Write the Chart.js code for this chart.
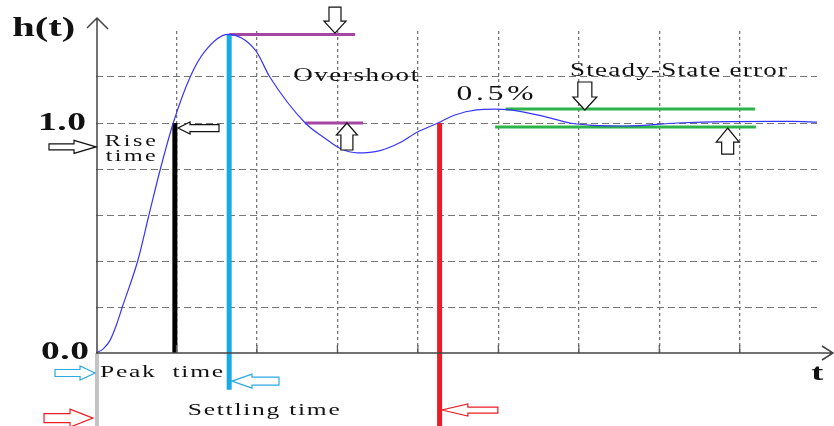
<!DOCTYPE html>
<html>
<head>
<meta charset="utf-8">
<script src="https://cdn.jsdelivr.net/npm/chart.js@4"></script>
<style>
  body { margin: 0; background: #fff; }
  canvas { display: block; }
</style>
</head>
<body>
<canvas id="stepChart" width="834" height="426"></canvas>
<script>
// Step response h(t) (t in grid units)
const timeVals = [0, 0.09, 0.174, 0.257, 0.327, 0.518, 0.658, 0.8, 0.96, 1.17, 1.35, 1.64, 1.98, 2.16,
    2.6, 2.84, 3.03, 3.25, 3.53, 3.78, 3.99, 4.25, 4.46, 4.73, 4.96, 5.14, 5.55, 5.89,
    6.17, 6.6, 7.22, 7.84, 8.66, 8.96];
const responseVals = [0, 0.018, 0.055, 0.125, 0.2, 0.4, 0.6, 0.8, 1.0, 1.2, 1.31, 1.385, 1.317, 1.2,
    1.0, 0.935, 0.89, 0.87, 0.88, 0.915, 0.96, 1.0, 1.035, 1.057, 1.06, 1.057, 1.03, 1.0,
    0.99, 0.987, 1.0, 1.006, 1.007, 1.004];

// y tick labels
const yTickVals = [0, 1.0];
const yTickLabels = ['0.0', '1.0'];

// marker values
const riseTime = 0.98;
const peakTime = 1.655;
const settlingTime = 4.27;
const peakValue = 1.385;
const finalValue = 1.0;
const bandUpper = 1.061;
const bandLower = 0.983;

const serif = '"Liberation Serif", "Times New Roman", serif';

// text labels: [text, t, h, font, width]
const labels = [
    ['h(t)', -1.04, 1.41, 'bold 28px ' + serif, 63],
    ['Rise', 0.11, 0.917, '16px ' + serif, 51],
    ['time', 0.12, 0.852, '16px ' + serif, 50],
    ['Overshoot', 2.45, 1.204, '18px ' + serif, 125],
    ['0.5%', 4.48, 1.122, '21px ' + serif, 77],
    ['Steady-State error', 5.89, 1.226, '18px ' + serif, 217],
    ['Peak  time', 0.05, -0.083, '17px ' + serif, 123],
    ['Settling time', 1.14, -0.252, '17px ' + serif, 152],
    ['t', 8.89, -0.091, 'bold 24px ' + serif, 13]
];

// hollow arrows: tip t, tip h, direction, length, shaft half, head half, head length, colour
const arrows = [
    [2.97, 1.391, 'down', 26, 6, 11, 12, '#111'],
    [3.118, 1.0, 'up', 27, 6, 10.5, 12, '#111'],
    [1.019, 0.978, 'left', 41, 3.5, 6, 12, '#111'],
    [0.0, 0.896, 'right', 47, 3, 6.5, 22, '#111'],
    [6.075, 1.0565, 'down', 28, 7, 12, 13, '#111'],
    [7.85, 0.978, 'up', 26, 6, 11.5, 14, '#111'],
    [-0.012, -0.087, 'right', 40, 3.5, 7, 15, '#29abe2'],
    [1.69, -0.122, 'left', 47, 4, 7, 20, '#29abe2'],
    [-0.037, -0.283, 'right', 49, 4.5, 9, 23, '#ed1c24'],
    [4.298, -0.248, 'left', 56, 3, 6, 26, '#ed1c24']
];

function seg(x1, y1, x2, y2) {
    return [{ x: x1, y: y1 }, { x: x2, y: y2 }];
}

// the picture's lettering is stretched sideways, so widen and space to the measured width
function fitText(ctx, str, x, y, font, width) {
    ctx.font = font;
    ctx.letterSpacing = '0px';
    const raw = ctx.measureText(str).width;
    const sx = Math.min(1.5, width / raw);
    const ls = str.length > 1 ? (width / sx - raw) / (str.length - 1) : 0;
    ctx.save();
    ctx.translate(x, y);
    ctx.scale(sx, 1);
    ctx.letterSpacing = Math.max(ls, 0) + 'px';
    ctx.fillText(str, 0, 0);
    ctx.restore();
}

function drawArrow(ctx, x, y, dir, len, sh, hh, hl, color) {
    const ang = { right: 0, left: Math.PI, down: Math.PI / 2, up: -Math.PI / 2 }[dir];
    ctx.save();
    ctx.translate(x, y);
    ctx.rotate(ang);
    ctx.beginPath();
    ctx.moveTo(0, 0);
    ctx.lineTo(-hl, -hh);
    ctx.lineTo(-hl, -sh);
    ctx.lineTo(-len, -sh);
    ctx.lineTo(-len, sh);
    ctx.lineTo(-hl, sh);
    ctx.lineTo(-hl, hh);
    ctx.closePath();
    ctx.fillStyle = '#fff';
    ctx.fill();
    ctx.strokeStyle = color;
    ctx.lineWidth = 1.2;
    ctx.stroke();
    ctx.restore();
}

const annotations = {
    id: 'annotations',
    afterDatasetsDraw(chart) {
        const ctx = chart.ctx;
        const xs = chart.scales.x, ys = chart.scales.y;
        const left = xs.left, bottom = ys.bottom;
        ctx.save();

        // small ticks on the t axis
        ctx.strokeStyle = '#555';
        ctx.lineWidth = 1.2;
        xs.ticks.forEach(tk => {
            if (tk.value > 0.5 && Number.isInteger(tk.value)) {
                const px = xs.getPixelForValue(tk.value);
                ctx.beginPath();
                ctx.moveTo(px, bottom - 8);
                ctx.lineTo(px, bottom);
                ctx.stroke();
            }
        });

        // axes with open arrowheads
        ctx.strokeStyle = '#444';
        ctx.lineWidth = 1.5;
        ctx.beginPath();
        ctx.moveTo(left + 1, bottom);
        ctx.lineTo(left + 1, ys.top - 13);
        ctx.moveTo(left - 9, ys.top - 3);
        ctx.lineTo(left + 1, ys.top - 13);
        ctx.lineTo(left + 12, ys.top - 2);
        ctx.moveTo(left, bottom);
        ctx.lineTo(xs.right + 16, bottom);
        ctx.moveTo(xs.right + 5, bottom - 7);
        ctx.lineTo(xs.right + 16, bottom);
        ctx.lineTo(xs.right + 5, bottom + 7);
        ctx.stroke();

        arrows.forEach(a => {
            drawArrow(ctx, xs.getPixelForValue(a[0]), ys.getPixelForValue(a[1]), a[2], a[3], a[4], a[5], a[6], a[7]);
        });

        // y tick labels
        ctx.fillStyle = '#111';
        ctx.textBaseline = 'middle';
        ctx.textAlign = 'left';
        yTickVals.forEach((v, i) => {
            const w = 48;
            fitText(ctx, yTickLabels[i], left - 10 - w + (v === 0 ? 3 : 0), ys.getPixelForValue(v) + (v === 0 ? 0 : 1), 'bold 25px ' + serif, w);
        });

        labels.forEach(l => {
            fitText(ctx, l[0], xs.getPixelForValue(l[1]), ys.getPixelForValue(l[2]), l[3], l[4]);
        });
        ctx.restore();
    }
};

const ctx = document.getElementById('stepChart').getContext('2d');
const stepChart = new Chart(ctx, {
    type: 'line',
    data: {
        datasets: [
            {
                data: timeVals.map((t, i) => ({ x: t, y: responseVals[i] })),
                borderColor: '#3535ff',
                borderWidth: 1.2,
                cubicInterpolationMode: 'monotone'
            },
            { data: seg(riseTime, 0, riseTime, finalValue), borderColor: '#000', borderWidth: 5 },
            { data: seg(peakTime, -0.16, peakTime, peakValue), borderColor: '#19a9e5', borderWidth: 5, clip: false },
            { data: seg(settlingTime, -0.32, settlingTime, finalValue), borderColor: '#ed1c24', borderWidth: 5, clip: false },
            { data: seg(0.012, -0.32, 0.012, 0), borderColor: '#c3c3c3', borderWidth: 4, clip: false },
            { data: seg(peakTime, peakValue, 3.22, peakValue), borderColor: '#a347a3', borderWidth: 3 },
            { data: seg(2.6, finalValue, 3.32, finalValue), borderColor: '#a347a3', borderWidth: 3 },
            { data: seg(5.09, bandUpper, 8.19, bandUpper), borderColor: '#2db34a', borderWidth: 3 },
            { data: seg(4.96, bandLower, 8.2, bandLower), borderColor: '#2db34a', borderWidth: 3 }
        ]
    },
    options: {
        responsive: false,
        animation: false,
        layout: { padding: { left: 0, top: 31, right: 17, bottom: 73 } },
        elements: { point: { radius: 0 }, line: { fill: false } },
        plugins: { legend: { display: false }, tooltip: { enabled: false } },
        scales: {
            x: {
                type: 'linear',
                min: 0,
                max: 8.96,
                afterFit: s => { s.height = 0; },
                ticks: { display: false, stepSize: 1 },
                border: { display: false, dash: [3, 3] },
                grid: {
                    drawTicks: false,
                    lineWidth: 1.3,
                    color: c => (c.tick.value > 0.5 && Number.isInteger(c.tick.value)) ? '#777' : 'rgba(0,0,0,0)'
                }
            },
            y: {
                min: 0,
                max: 1.4,
                afterFit: s => { s.width = 96; },
                ticks: { display: false, stepSize: 0.2 },
                border: { display: false, dash: [7, 4] },
                grid: {
                    drawTicks: false,
                    color: c => (c.tick.value > 0.1 && c.tick.value < 1.3) ? '#777' : 'rgba(0,0,0,0)'
                }
            }
        }
    },
    plugins: [annotations]
});
</script>
</body>
</html>
